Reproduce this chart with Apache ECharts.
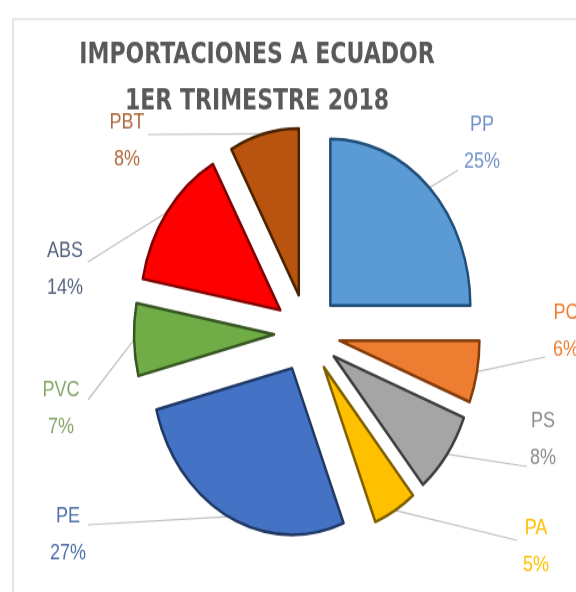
<!DOCTYPE html>
<html>
<head>
<meta charset="utf-8">
<script src="https://cdn.jsdelivr.net/npm/echarts@6/dist/echarts.min.js"></script>
<style>
  html, body { margin: 0; padding: 0; background: #ffffff; overflow: hidden; }
  #wrap { width: 576px; height: 592px; overflow: hidden; }
  /* the chart is laid out on a shorter canvas and stretched vertically */
  #chart { width: 576px; height: 497.5px; transform: scaleY(1.19); transform-origin: 0 0; }
</style>
</head>
<body>
<div id="wrap"><div id="chart"></div></div>
<script>
// Imports by resin, share of the quarter (%)
const names = ['PP', 'PC', 'PS', 'PA', 'PE', 'PVC', 'ABS', 'PBT'];
const shares = [25, 6, 8, 5, 27, 7, 14, 8];

const fillColors = ['#5B9BD5', '#ED7D31', '#A5A5A5', '#FFC000', '#4472C4', '#70AD47', '#FF0000', '#B8540F'];
const edgeColors = ['#1F4E79', '#843C0C', '#3F3F3F', '#7F6000', '#1F3864', '#375623', '#7F0000', '#4A2200'];
const labelColors = ['#6E92C6', '#ED7D31', '#8C8C8C', '#FFC000', '#4F6FA8', '#86A66A', '#55657F', '#B0693A'];

// label anchor (centre of the two text lines) and the outer end of each leader line
const labelAt = {
  PP: [482, 121], PC: [566, 279], PS: [543, 370], PA: [536, 460],
  PE: [68, 450], PVC: [61, 344], ABS: [65, 227], PBT: [127, 119]
};
const lineEnd = {
  PP: [458, 143], PC: [545, 300], PS: [527, 392], PA: [517, 454],
  PE: [88, 441], PVC: [88, 336], ABS: [88, 220], PBT: [148, 113]
};

const pieCenter = [307, 280];
const pieRadius = 140;
const explode = 33;

const chart = echarts.init(document.getElementById('chart'), null, { renderer: 'canvas' });

const option = {
  animation: false,
  backgroundColor: '#ffffff',
  graphic: [{
    type: 'rect',
    shape: { x: 13, y: 16, width: 620, height: 520 },
    style: { fill: 'none', stroke: '#D4D4D4', lineWidth: 1.2 },
    silent: true, z: -10
  }],
  title: {
    text: 'IMPORTACIONES A ECUADOR\n1ER TRIMESTRE 2018',
    left: 252,
    top: 22,
    textAlign: 'center',
    textStyle: {
      fontFamily: '"Liberation Sans Narrow", "DejaVu Sans Condensed", "Liberation Sans", sans-serif',
      fontWeight: 'bold',
      fontSize: 24.5,
      lineHeight: 39,
      color: '#595959'
    }
  },
  series: [
    {
      // exploded slices
      type: 'pie',
      center: pieCenter,
      radius: pieRadius,
      startAngle: 90,
      clockwise: true,
      selectedMode: 'multiple',
      selectedOffset: explode,
      data: names.map((n, i) => ({
        name: n,
        value: shares[i],
        selected: true,
        itemStyle: { color: fillColors[i], borderColor: edgeColors[i], borderWidth: 2.5 }
      })),
      label: { show: false },
      labelLine: { show: false },
      select: { itemStyle: {} },
      emphasis: { disabled: true }
    },
    {
      // category / share labels with leader lines to the exploded slices
      type: 'pie',
      center: pieCenter,
      radius: pieRadius,
      startAngle: 90,
      clockwise: true,
      silent: true,
      selectedMode: false,
      avoidLabelOverlap: false,
      itemStyle: { color: 'rgba(0,0,0,0)', borderWidth: 0 },
      data: names.map((n, i) => ({
        name: n,
        value: shares[i],
        label: { color: labelColors[i] }
      })),
      label: {
        show: true,
        position: 'outside',
        formatter: '{b}\n{c}%',
        fontFamily: '"Liberation Sans", Arial, sans-serif',
        fontSize: 18,
        lineHeight: 31,
        align: 'center'
      },
      labelLine: {
        show: true,
        lineStyle: { color: '#BFBFBF', width: 1.2 }
      },
      labelLayout: function (p) {
        const n = names[p.dataIndex];
        const edge = p.labelLinePoints[0];
        const k = (pieRadius + explode) / pieRadius;
        const start = [
          pieCenter[0] + (edge[0] - pieCenter[0]) * k,
          pieCenter[1] + (edge[1] - pieCenter[1]) * k
        ];
        const end = lineEnd[n];
        return {
          x: labelAt[n][0],
          y: labelAt[n][1],
          align: 'center',
          verticalAlign: 'middle',
          labelLinePoints: [start, end, end]
        };
      },
      emphasis: { disabled: true }
    }
  ]
};

chart.setOption(option);
</script>
</body>
</html>
